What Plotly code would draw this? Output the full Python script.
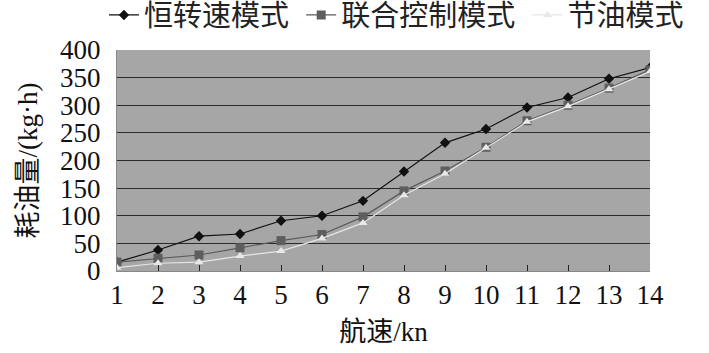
import plotly.graph_objects as go

speed = list(range(1, 15))
constant_speed = [16, 38, 63, 67, 91, 100, 127, 180, 232, 257, 296, 314, 348, 368]
joint_control = [16, 23, 29, 42, 55, 66, 98, 145, 181, 224, 272, 300, 331, 364]
fuel_saving = [6, 14, 16, 27, 36, 59, 87, 137, 176, 223, 270, 298, 329, 361]

series_names = ["恒转速模式", "联合控制模式", "节油模式"]
y_ticks = [0, 50, 100, 150, 200, 250, 300, 350, 400]

FONT = "Liberation Serif, Times New Roman, Noto Sans CJK SC, serif"
PAD = "\u00a0"

fig = go.Figure()
fig.add_trace(go.Scatter(
    x=speed, y=constant_speed, name=series_names[0] + PAD, mode="lines+markers",
    line=dict(color="#111111", width=1.2),
    marker=dict(symbol="diamond", size=8, color="#111111")))
fig.add_trace(go.Scatter(
    x=speed, y=joint_control, name=series_names[1] + PAD, mode="lines+markers",
    line=dict(color="#5a5a5a", width=1.2),
    marker=dict(symbol="square", size=9, color="#5e5e5e")))
fig.add_trace(go.Scatter(
    x=speed, y=fuel_saving, name=series_names[2], mode="lines+markers",
    line=dict(color="#e6e6e6", width=1.2),
    marker=dict(symbol="triangle-up", size=8, color="#e8e8e8")))

fig.update_layout(
    width=709, height=353,
    margin=dict(l=117, r=59, t=50, b=82, autoexpand=False),
    paper_bgcolor="white", plot_bgcolor="#a6a6a6",
    font=dict(family=FONT, color="#111111", size=27),
    showlegend=True,
    legend=dict(orientation="h", x=-0.0245, xanchor="left", y=1.158, yanchor="middle",
                font=dict(size=29, family=FONT, color="#222222"),
                itemwidth=30, bgcolor="rgba(0,0,0,0)"),
)

fig.update_xaxes(
    range=[1, 14], tickmode="array", tickvals=speed, ticktext=[str(s) for s in speed],
    ticks="inside", ticklen=6, tickcolor="#222222", tickwidth=1,
    showgrid=False, zeroline=False, showline=True, linecolor="#888888", linewidth=1,
    tickfont=dict(size=27, family=FONT), automargin=False,
    title=dict(text="航速/kn", font=dict(size=27, family=FONT), standoff=12),
)
fig.update_yaxes(
    range=[0, 400], tickmode="array", tickvals=y_ticks,
    showgrid=True, gridcolor="#2a2a2a", gridwidth=1.3,
    zeroline=False, showline=True, linecolor="#888888", linewidth=1,
    ticks="", ticklabelstandoff=10, automargin=False,
    tickfont=dict(size=27, family=FONT),
    title=dict(text="耗油量/(kg·h)", font=dict(size=27, family=FONT), standoff=14),
)

fig.write_html("out.html", config={"displayModeBar": False},
               post_script="document.body.style.margin='0';")
